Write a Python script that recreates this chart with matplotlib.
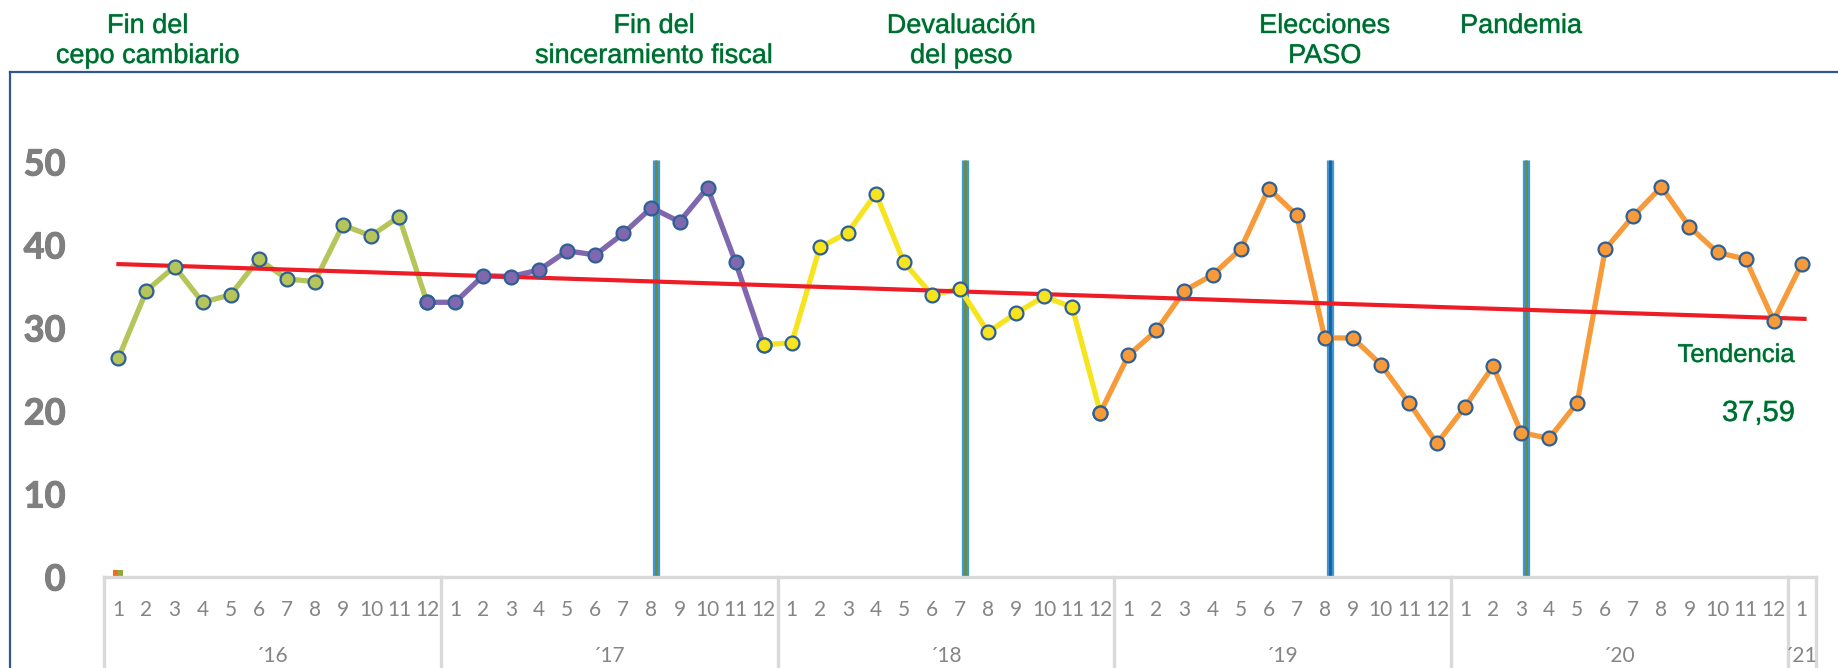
import matplotlib
matplotlib.use('Agg')
import matplotlib.pyplot as plt
import numpy as np
from matplotlib.lines import Line2D
import matplotlib.patheffects as pe

# ---------------- data ----------------
v2016 = [26.4, 34.5, 37.4, 33.1, 34.0, 38.3, 35.9, 35.6, 42.4, 41.1, 43.4, 33.1]
v2017 = [33.1, 36.3, 36.2, 37.0, 39.3, 38.8, 41.4, 44.5, 42.8, 46.9, 37.9, 28.0]
v2018 = [28.2, 39.7, 41.5, 46.2, 37.9, 34.0, 34.7, 29.5, 31.8, 33.8, 32.5, 19.8]
v2019 = [26.7, 29.7, 34.5, 36.4, 39.5, 46.8, 43.6, 28.8, 28.8, 25.6, 21.0, 16.1]
v2020 = [20.5, 25.4, 17.4, 16.7, 21.0, 39.5, 43.5, 47.0, 42.2, 39.1, 38.3, 30.9]
v2021 = [37.7]

years = ["´16", "´17", "´18", "´19", "´20", "´21"]
months_per_year = [12, 12, 12, 12, 12, 1]

trend_values = [37.7, 31.1]          # trend line start / end
trend_label = "Tendencia"
trend_number = "37,59"

event_index = [19, 30, 43, 50]       # Aug-17, Jul-18, Aug-19, Mar-20
event_top = 50.2
event_center_colors = ["#6E8B3D", "#6E8B3D", "#1F5C99", "#6E8B3D"]
annot_lines = [["Fin del", "cepo cambiario"],
               ["Fin del", "sinceramiento fiscal"],
               ["Devaluación", "del peso"],
               ["Elecciones", "PASO"],
               ["Pandemia"]]
annot_index = [1.05, 19.1, 30.05, 43.0, 50.0]

small_bars = [0.85, 0.85]
small_bar_colors = ["#F06B1E", "#8FAA3C"]

yticks = [0, 10, 20, 30, 40, 50]

# ---------------- build ----------------
values = v2016 + v2017 + v2018 + v2019 + v2020 + v2021
n = len(values)
x = np.arange(n)

W, H = 1838, 668
fig = plt.figure(figsize=(W / 100, H / 100), dpi=100)

px_per_unit = 8.3
y_top = 58
ax_left_px, ax_right_px = 104.4, 1815.7
ax_bottom_px = 577
ax = fig.add_axes([ax_left_px / W, (H - ax_bottom_px) / H,
                   (ax_right_px - ax_left_px) / W, y_top * px_per_unit / H])
ax.set_xlim(-0.5, n - 0.5)
ax.set_ylim(0, y_top)
for s in ax.spines.values():
    s.set_visible(False)
ax.set_xticks([])
ax.set_yticks(yticks)
ax.set_yticklabels([str(t) for t in yticks], fontfamily="Lato",
                   fontweight="bold", fontsize=26, color="#7F7F7F",
                   path_effects=[pe.withStroke(linewidth=0.8, foreground="#7F7F7F"),
                                 pe.Normal()])
ax.tick_params(axis="y", length=0, pad=28)
ax.patch.set_visible(False)

# event lines
for ei, cc in zip(event_index, event_center_colors):
    ax.plot([ei + 0.17, ei + 0.17], [0, event_top], color="#3A97D8", lw=5.2,
            solid_capstyle="butt", zorder=1)
    ax.plot([ei + 0.17, ei + 0.17], [0, event_top], color=cc, lw=2.0,
            solid_capstyle="butt", zorder=1.1)

# series
segments = [(0, 11, "#B5C55A"), (11, 23, "#8068AE"),
            (23, 35, "#F5E41E"), (35, n - 1, "#F79B3A")]
for a, b, col in segments:
    xs = x[a:b + 1]
    ys = values[a:b + 1]
    ax.plot(xs, ys, color=col, lw=3.8, zorder=3, solid_joinstyle="round")
for a, b, col in segments:
    xs = x[a:b + 1]
    ys = values[a:b + 1]
    ax.plot(xs, ys, ls="none", marker="o", ms=10, mfc=col, mec="#2E5F96",
            mew=1.6, zorder=5)

# trend
ax.plot([0, n - 1 + 0.1], trend_values, color="#EE1C25", lw=3.0, zorder=4)

# small bars at origin
ax.bar([-0.1, 0.08], small_bars, width=0.18, color=small_bar_colors, zorder=2)

# category axis
gray = "#D9D9D9"
ax.plot([-0.5, n - 0.5], [0, 0], color=gray, lw=2.4, clip_on=False, zorder=2)
bottom_y = -(H - ax_bottom_px) / px_per_unit
bounds = [-0.5]
acc = -0.5
for m in months_per_year:
    acc += m
    bounds.append(acc)
for bx in bounds:
    ax.plot([bx, bx], [0, bottom_y], color=gray, lw=2.4, clip_on=False, zorder=2)

month_y = -(610 - ax_bottom_px) / px_per_unit
year_y = -(656 - ax_bottom_px) / px_per_unit
idx = 0
for yr, m in zip(years, months_per_year):
    start = idx
    for k in range(m):
        ax.text(idx, month_y, str(k + 1), ha="center", va="center",
                fontfamily="Lato", fontsize=15, color="#858585", clip_on=False)
        idx += 1
    center = (start + idx - 1) / 2
    if m == 1:
        center = start
    ax.text(center, year_y, yr, ha="center", va="center",
            fontfamily="Lato", fontsize=15, color="#858585", clip_on=False)

# annotations
green = "#006B35"
effects = [pe.withStroke(linewidth=0.9, foreground="#A8E8BA"), pe.Normal()]
baselines = [1 - 33 / H, 1 - 63 / H]
for lines, xi in zip(annot_lines, annot_index):
    xf = (ax_left_px + (xi + 0.5) * (ax_right_px - ax_left_px) / n) / W
    for li, txt in enumerate(lines):
        fig.text(xf, baselines[li], txt, ha="center", va="baseline",
                 fontfamily="Liberation Sans", fontsize=19.5, color=green,
                 path_effects=effects)

fig.text(1795 / W, 1 - 362 / H, trend_label, ha="right", va="baseline",
         fontfamily="Liberation Sans", fontsize=18.5, color=green,
         path_effects=effects)
fig.text(1795 / W, 1 - 421 / H, trend_number, ha="right", va="baseline",
         fontfamily="Liberation Sans", fontsize=21, color=green,
         path_effects=effects)

# frame
fc = "#2F5597"
fig.add_artist(Line2D([10 / W, 10 / W], [0, 1 - 72 / H], color=fc, lw=1.6,
                      transform=fig.transFigure))
fig.add_artist(Line2D([10 / W, 1], [1 - 72 / H, 1 - 72 / H], color=fc, lw=1.6,
                      transform=fig.transFigure))

fig.savefig("out.png", dpi=100, facecolor="white")
